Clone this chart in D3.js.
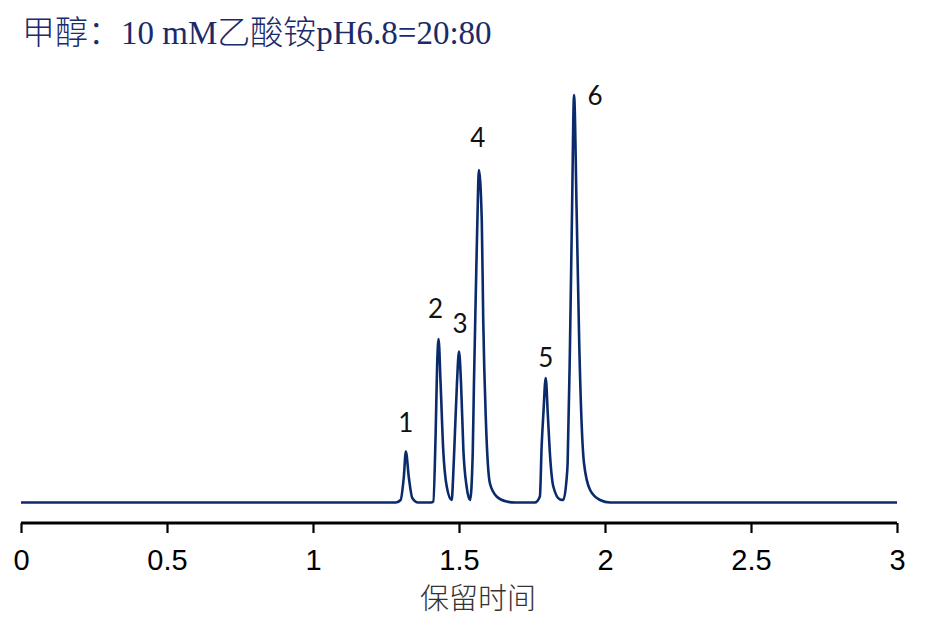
<!DOCTYPE html>
<html>
<head>
<meta charset="utf-8">
<script src="https://cdn.jsdelivr.net/npm/d3@7"></script>
<style>
  html, body { margin: 0; padding: 0; background: #fff; }
</style>
</head>
<body>
<svg id="chart"></svg>
<script>
// trace: retention time (min) and detector signal
const traceTime = [
  0, 1.284, 1.300, 1.311, 1.318, 1.328, 1.340, 1.360,
  1.404, 1.412, 1.420, 1.425, 1.430, 1.437, 1.446, 1.458, 1.475,
  1.480, 1.486, 1.493, 1.500, 1.507, 1.515, 1.526, 1.538,
  1.547, 1.551, 1.558, 1.563, 1.568, 1.578, 1.583, 1.592, 1.606, 1.629, 1.663, 1.692,
  1.760, 1.777, 1.783, 1.789, 1.797, 1.804, 1.812, 1.823, 1.846, 1.857,
  1.868, 1.872, 1.880, 1.887, 1.894, 1.903, 1.912, 1.928, 1.949, 1.983, 2.017, 3
];
const traceSignal = [
  0, 0, 2.5, 25.5, 51, 25.5, 4.5, 0,
  0, 1, 69, 136, 163.5, 119, 52.5, 16, 2.5,
  26, 69, 119, 151, 119, 52.5, 16, 2.5,
  49, 116, 216, 282.5, 332.5, 282.5, 182.5, 82.5, 19, 6, 1, 0,
  0, 6, 56, 89, 124.5, 89, 46, 16, 3, 2.5,
  22, 39.5, 156, 289.5, 407.5, 289.5, 156, 39.5, 12.5, 2.5, 0, 0
];

// peak annotations
const peakNames = ["1", "2", "3", "4", "5", "6"];
const peakTimes = [1.318, 1.430, 1.500, 1.568, 1.797, 1.894];
const peakHeights = [51, 163.5, 151, 332.5, 124.5, 407.5];

const xTicks = [0, 0.5, 1, 1.5, 2, 2.5, 3];
const titleText = "甲醇：10 mM乙酸铵pH6.8=20:80";
const xLabel = "保留时间";

const dims = {
  width: 942,
  height: 631,
  margin: { left: 21, right: 45, top: 52.5, bottom: 128.5 },
};
dims.innerWidth = dims.width - dims.margin.left - dims.margin.right;
dims.innerHeight = dims.height - dims.margin.top - dims.margin.bottom;

// label offsets from each apex (px), [dx, dy]
const labelNudge = [[0, -19.5], [-3, -21], [1, -19], [-1, -23], [0, -11], [21, 10]];

const svg = d3.select("#chart")
  .attr("width", dims.width)
  .attr("height", dims.height)
  .attr("viewBox", [0, 0, dims.width, dims.height]);

const base = svg.append("g")
  .attr("transform", `translate(${dims.margin.left},${dims.margin.top})`);

const xScale = d3.scaleLinear().domain([0, 3]).range([0, dims.innerWidth]);
const yScale = d3.scaleLinear().domain([0, 450]).range([dims.innerHeight, 0]);

// title
svg.append("text")
  .attr("x", 22)
  .attr("y", 44)
  .attr("fill", "#1a2a6a")
  .attr("font-size", 33)
  .attr("font-family", "'Liberation Serif', 'Noto Sans CJK SC', serif")
  .attr("font-weight", 300)
  .text(titleText);

// x axis
const axisY = dims.innerHeight + 20.5;
base.append("g")
  .attr("transform", `translate(0,${axisY})`)
  .call(d3.axisBottom(xScale).tickValues(xTicks).tickSize(10).tickFormat(d3.format("~g")))
  .call((g) => {
    g.select("path.domain")
      .attr("d", `M0,0H${dims.innerWidth}`)
      .attr("stroke", "#000")
      .attr("stroke-width", 2.8);
    g.selectAll(".tick line").attr("stroke", "#000").attr("stroke-width", 2.2);
    g.selectAll(".tick text")
      .attr("y", 47)
      .attr("dy", 0)
      .attr("fill", "#000")
      .attr("font-size", 29)
      .attr("font-family", "'Liberation Sans', Arial, sans-serif");
  });

svg.append("text")
  .attr("x", 478)
  .attr("y", 609)
  .attr("text-anchor", "middle")
  .attr("fill", "#333")
  .attr("font-size", 29)
  .attr("font-family", "'Noto Sans CJK SC', sans-serif")
  .attr("font-weight", 300)
  .text(xLabel);

// chromatogram trace
const line = d3.line()
  .x((i) => xScale(traceTime[i]))
  .y((i) => yScale(traceSignal[i]))
  .curve(d3.curveMonotoneX);

base.append("path")
  .attr("d", line(d3.range(traceTime.length)))
  .attr("fill", "none")
  .attr("stroke", "#0b2a6b")
  .attr("stroke-width", 2.6)
  .attr("stroke-linejoin", "round");

// peak numbers
base.append("g")
  .selectAll("text")
  .data(peakNames)
  .enter()
  .append("text")
  .attr("x", (d, i) => xScale(peakTimes[i]) + labelNudge[i][0])
  .attr("y", (d, i) => yScale(peakHeights[i]) + labelNudge[i][1])
  .attr("text-anchor", "middle")
  .attr("fill", "#111")
  .attr("font-size", 26)
  .attr("font-family", "Lato, 'Open Sans', sans-serif")
  .text((d) => d);
</script>
</body>
</html>
